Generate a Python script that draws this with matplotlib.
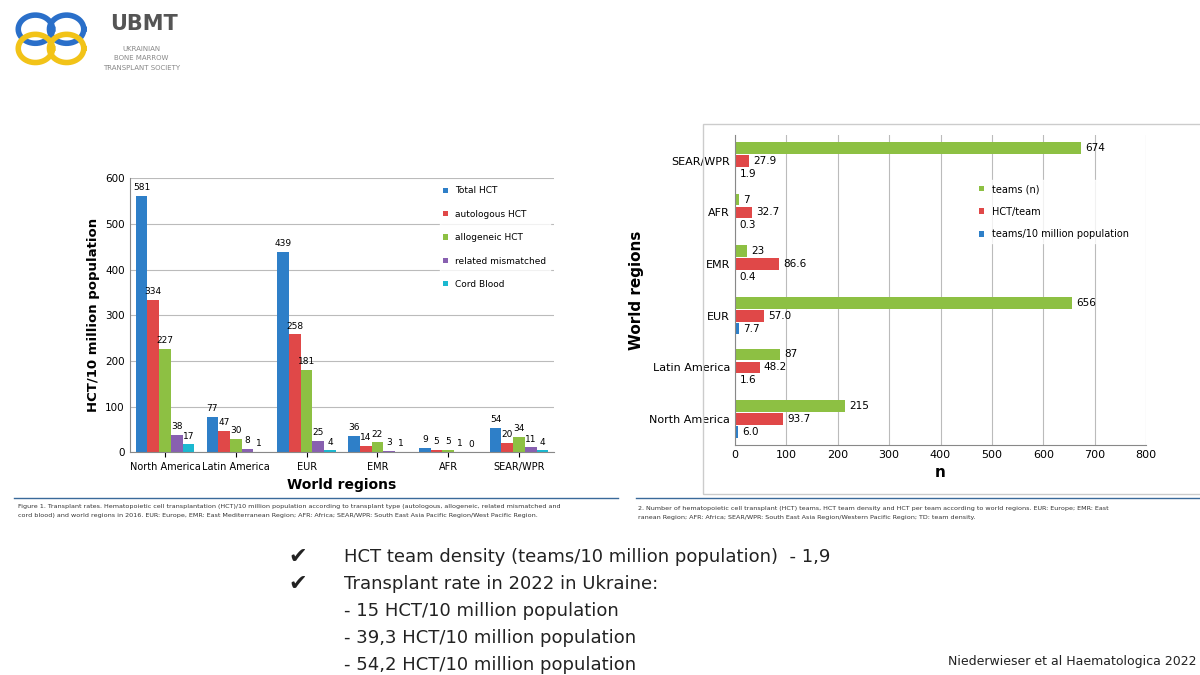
import matplotlib
matplotlib.use("Agg")
import matplotlib.pyplot as plt
import numpy as np
from matplotlib.patches import Rectangle

regions = ["North America", "Latin America", "EUR", "EMR", "AFR", "SEAR/WPR"]
series = ["Total HCT", "autologous HCT", "allogeneic HCT", "related mismatched", "Cord Blood"]
vals = [
    [562, 77, 439, 36, 9, 54],
    [334, 47, 258, 14, 5, 20],
    [227, 30, 181, 22, 5, 34],
    [38, 8, 25, 3, 1, 11],
    [17, 1, 4, 1, 0, 4],
]
labels = [
    ["581", "77", "439", "36", "9", "54"],
    ["334", "47", "258", "14", "5", "20"],
    ["227", "30", "181", "22", "5", "34"],
    ["38", "8", "25", "3", "1", "11"],
    ["17", "1", "4", "1", "0", "4"],
]
colors = ["#2e7fc8", "#e04848", "#8dc043", "#8860b0", "#1bb8d0"]

r_regions = ["North America", "Latin America", "EUR", "EMR", "AFR", "SEAR/WPR"]
r_series = ["teams (n)", "HCT/team", "teams/10 million population"]
teams = [215, 87, 656, 23, 7, 674]
hct_team = [93.7, 48.2, 57.0, 86.6, 32.7, 27.9]
density = [6.0, 1.6, 7.7, 0.4, 0.3, 1.9]
r_colors = ["#8dc043", "#e04848", "#2e7fc8"]

fig = plt.figure(figsize=(12, 6.75), dpi=100)
fig.patch.set_facecolor("white")

# logo
fig.text(0.092, 0.965, "UBMT", fontsize=15, fontweight="bold", color="#555555", va="center")
for i, t in enumerate(["UKRAINIAN", "BONE MARROW", "TRANSPLANT SOCIETY"]):
    fig.text(0.118, 0.928 - i*0.014, t, fontsize=5, color="#888888", ha="center", va="center")
lax = fig.add_axes([0.01, 0.895, 0.065, 0.095]); lax.axis("off")
th = np.linspace(0, 2*np.pi, 200)
for cx, cy, c in [(0.3, 0.65, "#2a6fc9"), (0.7, 0.65, "#2a6fc9"), (0.3, 0.35, "#f2c318"), (0.7, 0.35, "#f2c318")]:
    lax.plot(cx + 0.22*np.cos(th), cy + 0.22*np.sin(th), color=c, lw=4)
lax.set_xlim(0, 1); lax.set_ylim(0, 1)

# left chart
ax = fig.add_axes([0.108, 0.330, 0.354, 0.406])
x = np.arange(len(regions))
w = 0.165
for i, (s, c) in enumerate(zip(series, colors)):
    pos = x - 2*w + i*w
    ax.bar(pos, vals[i], w, color=c, label=s)
    for p, v, l in zip(pos, vals[i], labels[i]):
        ax.text(p, v + 8, l, ha="center", va="bottom", fontsize=6.5)
ax.set_ylim(0, 600)
ax.set_xlim(-0.5, 5.5)
ax.set_yticks(range(0, 601, 100))
ax.yaxis.grid(True, color="#bbbbbb", lw=0.8)
ax.set_axisbelow(True)
ax.set_xticks(x)
ax.set_xticklabels(regions, fontsize=7)
ax.tick_params(axis="y", labelsize=7.5, length=0)
for sp in ["top", "right"]:
    ax.spines[sp].set_visible(False)
ax.spines["left"].set_color("#888888"); ax.spines["bottom"].set_color("#888888")
ax.set_ylabel("HCT/10 million population", fontsize=9.5, fontweight="bold")
ax.set_xlabel("World regions", fontsize=10, fontweight="bold")
ax.legend(loc="upper right", fontsize=6.5, frameon=True, facecolor="white", edgecolor="white",
          handlelength=0.5, handleheight=0.5, labelspacing=1.6, bbox_to_anchor=(1.0, 1.0))
fig.add_artist(plt.Line2D([0.012, 0.515], [0.262, 0.262], color="#3a6a9a", lw=1))
fig.text(0.015, 0.250, "Figure 1. Transplant rates. Hematopoietic cell transplantation (HCT)/10 million population according to transplant type (autologous, allogeneic, related mismatched and",
         fontsize=4.6, color="#333333", va="center")
fig.text(0.015, 0.236, "cord blood) and world regions in 2016. EUR: Europe, EMR: East Mediterranean Region; AFR: Africa; SEAR/WPR: South East Asia Pacific Region/West Pacific Region.",
         fontsize=4.6, color="#333333", va="center")

# right chart
fig.add_artist(Rectangle((0.586, 0.268), 0.42, 0.548, fill=False, edgecolor="#cccccc", lw=1, transform=fig.transFigure))
ax2 = fig.add_axes([0.6125, 0.341, 0.3425, 0.459])
y = np.arange(len(r_regions))
h = 0.25
for i, (d, c) in enumerate(zip([teams, hct_team, density], r_colors)):
    pos = y + h - i*h
    ax2.barh(pos, d, h*0.9, color=c, label=r_series[i])
    for p, v in zip(pos, d):
        txt = str(v) if i == 0 else f"{v:.1f}"
        ax2.text(v + 8, p, txt, va="center", fontsize=7.5)
ax2.set_xlim(0, 800)
ax2.set_ylim(-0.5, 5.5)
ax2.set_xticks(range(0, 801, 100))
ax2.xaxis.grid(True, color="#bbbbbb", lw=0.8)
ax2.set_axisbelow(True)
ax2.set_yticks(y)
ax2.set_yticklabels(r_regions, fontsize=8)
ax2.tick_params(labelsize=8, length=0)
for sp in ["top", "right"]:
    ax2.spines[sp].set_visible(False)
ax2.spines["left"].set_color("#888888"); ax2.spines["bottom"].set_color("#888888")
ax2.set_xlabel("n", fontsize=11, fontweight="bold")
ax2.set_ylabel("World regions", fontsize=11, fontweight="bold")
ax2.legend(loc="upper right", bbox_to_anchor=(0.98, 0.87), fontsize=7, frameon=True, facecolor="white",
           edgecolor="white", handlelength=0.5, handleheight=0.5, labelspacing=1.3)
fig.add_artist(plt.Line2D([0.53, 1.0], [0.262, 0.262], color="#3a6a9a", lw=1))
fig.text(0.532, 0.247, "2. Number of hematopoietic cell transplant (HCT) teams, HCT team density and HCT per team according to world regions. EUR: Europe; EMR: East",
         fontsize=4.6, color="#333333", va="center")
fig.text(0.532, 0.233, "ranean Region; AFR: Africa; SEAR/WPR: South East Asia Region/Western Pacific Region; TD: team density.",
         fontsize=4.6, color="#333333", va="center")

# bullets
lines = [("✔", "HCT team density (teams/10 million population)  - 1,9"),
         ("✔", "Transplant rate in 2022 in Ukraine:"),
         ("", "- 15 HCT/10 million population"),
         ("", "- 39,3 HCT/10 million population"),
         ("", "- 54,2 HCT/10 million population")]
for i, (b, t) in enumerate(lines):
    yy = 1 - (557 + i*27) / 675
    if b:
        fig.text(0.24, yy, b, fontsize=16, va="center", color="#222222")
    fig.text(0.287, yy, t, fontsize=13, va="center", color="#222222")
fig.text(0.79, 1 - 661/675, "Niederwieser et al Haematologica 2022", fontsize=9, va="center", color="#222222")

fig.savefig("out.png", dpi=100)
